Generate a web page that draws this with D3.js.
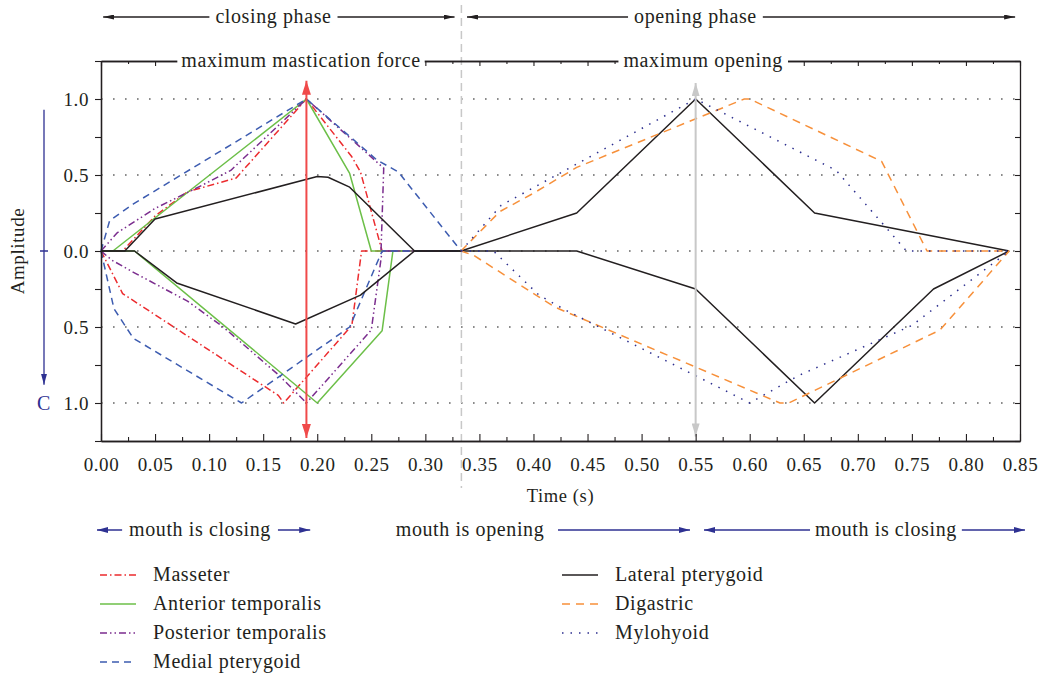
<!DOCTYPE html>
<html>
<head>
<meta charset="utf-8">
<script src="https://cdn.jsdelivr.net/npm/d3@7"></script>
<style>
  body { margin: 0; background: #fff; }
  text { font-family: "Liberation Serif", "DejaVu Serif", serif; fill: #231f20; letter-spacing: 0.6px; }
</style>
</head>
<body>
<svg id="chart" width="1042" height="678"></svg>
<script>
// ---- data: [time (s), amplitude] ----
const timeTicks = d3.range(0, 0.851, 0.05);
const timeMinor = d3.range(0.025, 0.85, 0.05);
const ampTicks = [-1, -0.5, 0, 0.5, 1];
const ampMinor = [-1.25, -0.75, -0.25, 0.25, 0.75, 1.25];
const gridValues = [-1, -0.5, 0, 0.5, 1];

const muscleNames = ["Masseter", "Anterior temporalis", "Posterior temporalis", "Medial pterygoid",
                     "Lateral pterygoid", "Digastric", "Mylohyoid"];
const muscleColors = ["#ec2b2e", "#6cbf48", "#7b2d8e", "#3d5cb0", "#231f20", "#f7903a", "#2c2e8e"];
const muscleDash = ["7,3,1.5,3", null, "7,3,1.5,3,1.5,3", "7,5", null, "8,6", "1.5,7"];

const masseterUp = [[0, 0], [0.02, 0], [0.05, 0.23], [0.08, 0.39], [0.125, 0.48], [0.19, 1.0],
                    [0.232, 0.62], [0.24, 0.52], [0.26, 0], [0.333, 0]];
const masseterLo = [[0, 0], [0.02, -0.28], [0.164, -0.95], [0.169, -1.0], [0.232, -0.49], [0.241, 0], [0.333, 0]];

const antTempUp = [[0, 0], [0.011, 0], [0.19, 1.0], [0.23, 0.51], [0.25, 0], [0.333, 0]];
const antTempLo = [[0, 0], [0.031, 0], [0.2, -1.0], [0.26, -0.525], [0.27, 0], [0.333, 0]];

const postTempUp = [[0, 0], [0.015, 0.12], [0.05, 0.28], [0.09, 0.42], [0.12, 0.53], [0.19, 1.0],
                    [0.2615, 0.545], [0.259, 0], [0.333, 0]];
const postTempLo = [[0, 0], [0.01, -0.06], [0.03, -0.14], [0.08, -0.33], [0.113, -0.5], [0.165, -0.82],
                    [0.19, -1.0], [0.25, -0.52], [0.26, 0], [0.333, 0]];

const medPtUp = [[0, 0], [0.008, 0.2], [0.03, 0.31], [0.19, 1.0], [0.255, 0.6], [0.275, 0.52], [0.333, 0]];
const medPtLo = [[0, 0], [0.012, -0.38], [0.03, -0.575], [0.13, -1.0], [0.23, -0.5], [0.26, 0], [0.333, 0]];

const latPtUp = [[0, 0], [0.022, 0], [0.05, 0.21], [0.2, 0.49], [0.21, 0.485], [0.23, 0.42], [0.29, 0],
                 [0.333, 0], [0.44, 0.25], [0.55, 1.0], [0.66, 0.25], [0.84, 0]];
const latPtLo = [[0, 0], [0.031, 0], [0.07, -0.21], [0.18, -0.48], [0.24, -0.29], [0.29, 0],
                 [0.44, 0], [0.55, -0.25], [0.66, -1.0], [0.77, -0.25], [0.84, 0]];

const digUp = [[0.333, 0], [0.369, 0.26], [0.4, 0.38], [0.44, 0.55], [0.595, 1.0], [0.6, 1.0],
               [0.722, 0.59], [0.764, 0], [0.84, 0]];
const digLo = [[0.333, 0], [0.345, -0.03], [0.42, -0.37], [0.628, -1.0], [0.636, -1.0], [0.776, -0.52], [0.84, 0]];

const myloUp = [[0.333, 0], [0.37, 0.3], [0.55, 1.0], [0.68, 0.53], [0.745, 0], [0.84, 0]];
const myloLo = [[0.333, 0], [0.363, 0], [0.405, -0.29], [0.43, -0.39], [0.6, -1.0], [0.645, -0.82],
                [0.75, -0.49], [0.84, 0]];

const upperTraces = [masseterUp, antTempUp, postTempUp, medPtUp, latPtUp, digUp, myloUp];
const lowerTraces = [masseterLo, antTempLo, postTempLo, medPtLo, latPtLo, digLo, myloLo];

// annotations (time positions)
const phaseSplit = 1 / 3;
const maxForceTime = 0.19;
const maxOpenTime = 0.55;

const svg = d3.select("#chart");

const x = d3.scaleLinear().domain([0, 0.85]).range([101, 1020]);
const y = d3.scaleLinear().domain([-1.25, 1.25]).range([441, 61]);

// arrow heads
const defs = svg.append("defs");
function addMarker(id, color, len, wid) {
    defs.append("marker")
        .attr("id", id)
        .attr("viewBox", `0 0 ${len} ${wid}`)
        .attr("refX", len)
        .attr("refY", wid / 2)
        .attr("markerWidth", len)
        .attr("markerHeight", wid)
        .attr("markerUnits", "userSpaceOnUse")
        .attr("orient", "auto-start-reverse")
        .append("path")
        .attr("d", `M0,0L${len},${wid / 2}L0,${wid}Z`)
        .attr("fill", color);
}
addMarker("head-black", "#231f20", 11, 5);
addMarker("head-navy", "#2e3192", 11, 6);
addMarker("head-red", "#f04a4a", 14, 9);
addMarker("head-grey", "#c8c8c8", 13, 8);

// grid
svg.append("g")
    .selectAll("line")
    .data(gridValues)
    .enter()
    .append("line")
    .attr("x1", x(0))
    .attr("x2", x(0.85))
    .attr("y1", (d) => y(d))
    .attr("y2", (d) => y(d))
    .style("stroke", "#666")
    .style("stroke-width", 1.6)
    .style("stroke-dasharray", "1.6,10.4");

// phase split (grey dashed)
svg.append("line")
    .attr("x1", x(phaseSplit)).attr("x2", x(phaseSplit))
    .attr("y1", 5).attr("y2", 488)
    .style("stroke", "#c8c8c8")
    .style("stroke-width", 1.5)
    .style("stroke-dasharray", "8,5");

// muscle traces
const line = d3.line().x((d) => x(d[0])).y((d) => y(d[1]));
const traces = svg.append("g").attr("class", "traces");
muscleNames.forEach((name, i) => {
    [upperTraces[i], lowerTraces[i]].forEach((pts) => {
        traces.append("path")
            .attr("d", line(pts))
            .style("fill", "none")
            .style("stroke", muscleColors[i])
            .style("stroke-width", 1.5)
            .style("stroke-linejoin", "round")
            .style("stroke-dasharray", muscleDash[i]);
    });
});

// max force / max opening arrows
svg.append("line")
    .attr("x1", x(maxForceTime)).attr("x2", x(maxForceTime))
    .attr("y1", y(-1.23)).attr("y2", y(1.12))
    .style("stroke", "#f04a4a")
    .style("stroke-width", 2)
    .attr("marker-start", "url(#head-red)")
    .attr("marker-end", "url(#head-red)");
svg.append("line")
    .attr("x1", x(maxOpenTime)).attr("x2", x(maxOpenTime))
    .attr("y1", y(-1.22)).attr("y2", y(1.105))
    .style("stroke", "#c8c8c8")
    .style("stroke-width", 2)
    .attr("marker-start", "url(#head-grey)")
    .attr("marker-end", "url(#head-grey)");

// axes
const axes = svg.append("g");
axes.append("g").attr("transform", `translate(0,${y(-1.25)})`)
    .call(d3.axisBottom(x).tickValues(timeTicks).tickFormat(d3.format(".2f"))
        .tickSizeInner(-7).tickSizeOuter(0).tickPadding(17));
axes.append("g").attr("transform", `translate(0,${y(-1.25)})`)
    .call(d3.axisBottom(x).tickValues(timeMinor).tickFormat("").tickSizeInner(-4).tickSizeOuter(0));
axes.append("g").attr("transform", `translate(0,${y(1.25)})`)
    .call(d3.axisTop(x).tickValues(timeTicks).tickFormat("").tickSizeInner(-5).tickSizeOuter(0));
axes.append("g").attr("transform", `translate(0,${y(1.25)})`)
    .call(d3.axisTop(x).tickValues(timeMinor).tickFormat("").tickSizeInner(-3).tickSizeOuter(0));
axes.append("g").attr("transform", `translate(${x(0)},0)`)
    .call(d3.axisLeft(y).tickValues(ampTicks).tickFormat((d) => Math.abs(d).toFixed(1))
        .tickSizeInner(6).tickSizeOuter(0).tickPadding(6));
axes.append("g").attr("transform", `translate(${x(0)},0)`)
    .call(d3.axisLeft(y).tickValues(ampMinor).tickFormat("").tickSizeInner(6).tickSizeOuter(0));
axes.append("g").attr("transform", `translate(${x(0.85)},0)`)
    .call(d3.axisRight(y).tickValues(ampTicks.concat(ampMinor)).tickFormat("").tickSizeInner(-5).tickSizeOuter(0));
axes.selectAll(".domain").style("stroke", "#231f20").style("stroke-width", 1.3);
axes.selectAll(".tick line").style("stroke", "#231f20").style("stroke-width", 1.1);
axes.selectAll(".tick text")
    .style("fill", "#231f20")
    .style("font-family", "'Liberation Serif', serif")
    .style("font-size", "19px");

svg.append("text")
    .attr("transform", `translate(24,${y(0)}) rotate(-90)`)
    .attr("text-anchor", "middle")
    .style("font-size", "19px")
    .text("Amplitude");
svg.append("text")
    .attr("x", x(0.425)).attr("y", 502)
    .attr("text-anchor", "middle")
    .style("font-size", "18.5px")
    .text("Time (s)");

// text with a white box behind it
function boxedText(cx, cy, label, size, pad) {
    const g = svg.append("g");
    const rect = g.append("rect").style("fill", "#fff");
    const t = g.append("text")
        .attr("x", cx).attr("y", cy)
        .attr("text-anchor", "middle")
        .attr("dy", "0.32em")
        .style("font-size", size + "px")
        .text(label);
    const b = t.node().getBBox();
    rect.attr("x", b.x - pad).attr("y", b.y).attr("width", b.width + 2 * pad).attr("height", b.height);
}

function arrowLine(t1, t2, yy, color, marker, startHead, endHead) {
    const l = svg.append("line")
        .attr("x1", x(t1)).attr("x2", x(t2))
        .attr("y1", yy).attr("y2", yy)
        .style("stroke", color)
        .style("stroke-width", 1.3);
    if (startHead) l.attr("marker-start", `url(#${marker})`);
    if (endHead) l.attr("marker-end", `url(#${marker})`);
}

// top: phases
const phaseArrows = [
    { label: "closing phase", from: 0.002, to: 0.327, at: 0.1595 },
    { label: "opening phase", from: 0.3385, to: 0.8455, at: 0.5498 },
];
phaseArrows.forEach((a) => {
    arrowLine(a.from, a.to, 17, "#231f20", "head-black", true, true);
    boxedText(x(a.at), 17, a.label, 20, 6);
});

// top frame labels
boxedText(x(0.185), y(1.25), "maximum mastication force", 20, 4);
boxedText(x(0.557), y(1.25), "maximum opening", 20, 5);

// bottom: mouth movement
const mouthArrows = [
    { label: "mouth is closing", at: 0.0916, from: -0.0037, to: 0.1935, start: true, pad: 7 },
    { label: "mouth is opening", at: 0.3413, from: 0.4227, to: 0.5448, start: false, pad: 0 },
    { label: "mouth is closing", at: 0.726, from: 0.5577, to: 0.8546, start: true, pad: 5 },
];
mouthArrows.forEach((a) => {
    arrowLine(a.from, a.to, 530, "#2e3192", "head-navy", a.start, true);
    boxedText(x(a.at), 530, a.label, 20, a.pad);
});

// left "C" arrow
svg.append("line")
    .attr("x1", 44).attr("x2", 44)
    .attr("y1", y(0.93)).attr("y2", y(-0.88))
    .style("stroke", "#2e3192")
    .style("stroke-width", 1.3)
    .attr("marker-end", "url(#head-navy)");
svg.append("line")
    .attr("x1", 40).attr("x2", 48)
    .attr("y1", y(0)).attr("y2", y(0))
    .style("stroke", "#2e3192")
    .style("stroke-width", 1.5);
svg.append("text")
    .attr("x", 44).attr("y", y(-1.0))
    .attr("dy", "0.35em")
    .attr("text-anchor", "middle")
    .style("font-size", "20px")
    .style("fill", "#2e3192")
    .text("C");

// legend
const legend = svg.append("g").attr("class", "legend");
muscleNames.forEach((name, i) => {
    const col = i < 4 ? 0 : 1;
    const row = i < 4 ? i : i - 4;
    const lx = col === 0 ? 100 : 562;
    const ly = 575 + row * 29;
    legend.append("line")
        .attr("x1", lx).attr("x2", lx + 36)
        .attr("y1", ly).attr("y2", ly)
        .style("stroke", muscleColors[i])
        .style("stroke-width", 1.5)
        .style("stroke-dasharray", muscleDash[i]);
    legend.append("text")
        .attr("x", lx + 53).attr("y", ly)
        .attr("dy", "0.32em")
        .style("font-size", "20px")
        .text(name);
});
</script>
</body>
</html>
